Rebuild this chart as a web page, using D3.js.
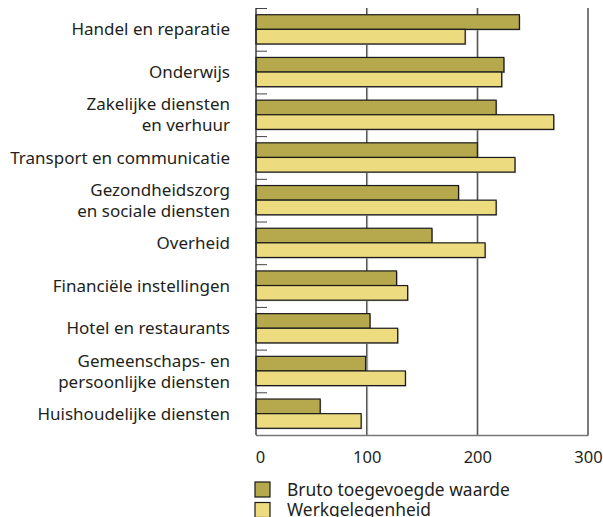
<!DOCTYPE html>
<html>
<head>
<meta charset="utf-8">
<script src="https://cdn.jsdelivr.net/npm/d3@7"></script>
<style>
  body { margin: 0; background: #fff; }
  svg text { font-family: "Noto Sans", sans-serif; fill: #231f20; }
</style>
</head>
<body>
<svg id="chart"></svg>
<script>
// Data
const categories = [
  "Handel en reparatie",
  "Onderwijs",
  "Zakelijke diensten|en verhuur",
  "Transport en communicatie",
  "Gezondheidszorg|en sociale diensten",
  "Overheid",
  "Financiële instellingen",
  "Hotel en restaurants",
  "Gemeenschaps- en|persoonlijke diensten",
  "Huishoudelijke diensten"
];
const seriesNames = ["Bruto toegevoegde waarde", "Werkgelegenheid"];
const brutoValues = [238, 224, 217, 200, 183, 159, 127, 103, 99, 58];
const werkValues = [189, 222, 269, 234, 217, 207, 137, 128, 135, 95];
const xTicks = [0, 100, 200, 300];
const colors = ["#b5a84d", "#eddb80"];

const rows = categories.map((c, i) => ({ cat: c, values: [brutoValues[i], werkValues[i]] }));

// Chart config
const W = 603, H = 517;
const plotLeft = 256, plotRight = 588, plotTop = 8, plotBottom = 435;

const svg = d3.select("#chart").attr("width", W).attr("height", H);

const x = d3.scaleLinear().domain([0, 300]).range([plotLeft, plotRight]);
const y = d3.scaleBand().domain(categories).range([plotTop, plotBottom]);
const ySub = d3.scaleBand().domain([0, 1]).range([0, y.bandwidth()]).paddingOuter(0.46);

// vertical grid lines (with a faint shadow)
[100, 200].forEach(v => {
  svg.append("line")
    .attr("x1", x(v) + 1).attr("x2", x(v) + 1).attr("y1", plotTop).attr("y2", plotBottom)
    .attr("stroke", "#bbb").attr("stroke-width", 1);
  svg.append("line")
    .attr("x1", x(v)).attr("x2", x(v)).attr("y1", plotTop).attr("y2", plotBottom)
    .attr("stroke", "#555").attr("stroke-width", 1.3);
});

// right border and bottom axis line
svg.append("line")
  .attr("x1", x(300)).attr("x2", x(300)).attr("y1", plotTop).attr("y2", plotBottom)
  .attr("stroke", "#333").attr("stroke-width", 1.3);
svg.append("line")
  .attr("x1", plotLeft).attr("x2", x(300) + 0.6).attr("y1", plotBottom + 0.5).attr("y2", plotBottom + 0.5)
  .attr("stroke", "#777").attr("stroke-width", 1.6);

// category separators (short inward ticks)
categories.forEach(c => {
  svg.append("line")
    .attr("x1", plotLeft).attr("x2", plotLeft + 11)
    .attr("y1", y(c) + 0.5).attr("y2", y(c) + 0.5)
    .attr("stroke", "#444").attr("stroke-width", 1);
});

// bars
const groups = svg.selectAll("g.cat")
  .data(rows)
  .join("g")
  .attr("class", "cat")
  .attr("transform", d => `translate(0,${y(d.cat)})`);

groups.selectAll("rect.shadow")
  .data(d => d.values)
  .join("rect")
  .attr("class", "shadow")
  .attr("x", x(0) + 1)
  .attr("y", (d, i) => ySub(i) + 1)
  .attr("width", d => x(d) - x(0))
  .attr("height", ySub.bandwidth())
  .attr("fill", "#aaa");

groups.selectAll("rect.bar")
  .data(d => d.values)
  .join("rect")
  .attr("class", "bar")
  .attr("x", x(0))
  .attr("y", (d, i) => ySub(i))
  .attr("width", d => x(d) - x(0))
  .attr("height", ySub.bandwidth())
  .attr("fill", (d, i) => colors[i])
  .attr("stroke", "#1a1a1a")
  .attr("stroke-width", 1.2);

// left axis line
svg.append("line")
  .attr("x1", plotLeft).attr("x2", plotLeft).attr("y1", plotTop).attr("y2", plotBottom)
  .attr("stroke", "#222").attr("stroke-width", 1.3);

// category labels
groups.append("text")
  .attr("text-anchor", "end")
  .attr("font-size", 17)
  .each(function (d) {
    const lines = d.cat.split("|");
    const t = d3.select(this);
    const mid = y.bandwidth() / 2;
    lines.forEach((ln, k) => {
      t.append("tspan")
        .attr("x", 230)
        .attr("y", mid + (k - (lines.length - 1) / 2) * 21)
        .attr("dy", "0.36em")
        .text(ln);
    });
  });

// x axis labels
const xAxis = d3.axisBottom(x).tickValues(xTicks).tickSize(0).tickPadding(16);
const xAxisGroup = svg.append("g")
  .attr("transform", `translate(0,${plotBottom})`)
  .call(xAxis);
xAxisGroup.select(".domain").remove();
xAxisGroup.selectAll("text")
  .attr("font-size", 16.5)
  .attr("font-family", "Noto Sans, sans-serif")
  .attr("fill", "#231f20")
  .attr("dx", d => d === 0 ? 4 : 0);

// legend
const legend = svg.selectAll("g.legend")
  .data(seriesNames)
  .join("g")
  .attr("class", "legend")
  .attr("transform", (d, i) => `translate(255,${482 + i * 20.5})`);

legend.append("rect")
  .attr("width", 15).attr("height", 15)
  .attr("fill", (d, i) => colors[i])
  .attr("stroke", "#1a1a1a").attr("stroke-width", 1.2);

legend.append("text")
  .attr("x", 32).attr("y", 7.5).attr("dy", "0.36em")
  .attr("font-size", 17.4)
  .text(d => d);
</script>
</body>
</html>
